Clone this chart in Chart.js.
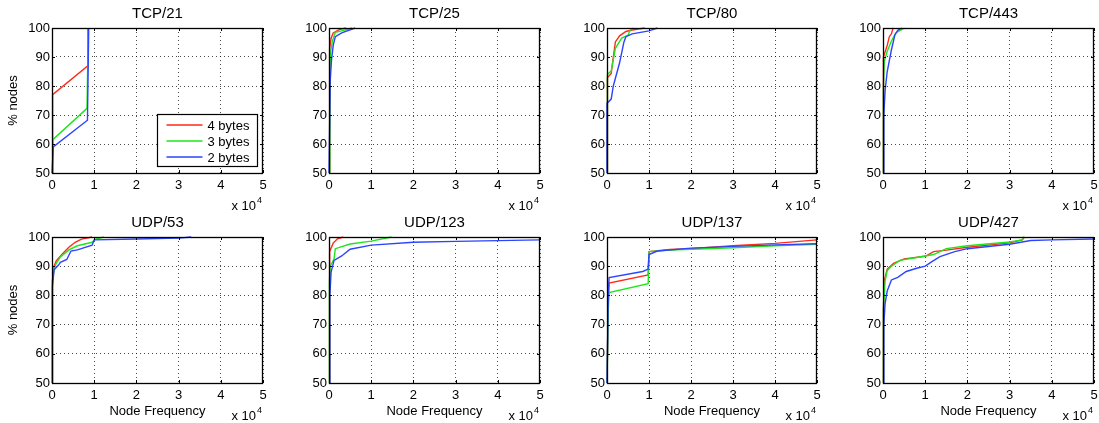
<!DOCTYPE html>
<html>
<head>
<meta charset="utf-8">
<script src="https://cdn.jsdelivr.net/npm/chart.js@4.4.1/dist/chart.umd.min.js"></script>
<style>
  html, body { margin: 0; padding: 0; background: #fff; overflow: hidden; }
  #wrap { position: relative; width: 1099px; height: 423px; }
  #wrap canvas { position: absolute; }
</style>
</head>
<body>
<div id="wrap"></div>
<script>
// axes
var xTicks = [0, 1, 2, 3, 4, 5];          // node frequency, x 10^4
var yTicks = [50, 60, 70, 80, 90, 100];   // % nodes
var titles = ['TCP/21', 'TCP/25', 'TCP/80', 'TCP/443', 'UDP/53', 'UDP/123', 'UDP/137', 'UDP/427'];
var seriesNames = ['4 bytes', '3 bytes', '2 bytes'];

// [node frequency (x 10^4), % nodes]
var tcp21_4 = [[0,50],[0.01,60],[0.02,77],[0.83,86.7],[0.85,100]];
var tcp21_3 = [[0,50],[0.02,61.5],[0.83,72.3],[0.86,100]];
var tcp21_2 = [[0,50],[0.03,59],[0.84,68.2],[0.87,100]];

var tcp25_4 = [[0,50],[0.01,86],[0.02,93],[0.05,96.5],[0.1,98.3],[0.25,99.5],[0.4,100]];
var tcp25_3 = [[0,50],[0.02,86],[0.04,92],[0.08,95.5],[0.15,98.5],[0.3,99],[0.55,100]];
var tcp25_2 = [[0,50],[0.03,82],[0.06,89],[0.1,94],[0.15,97],[0.3,98.3],[0.62,100]];

var tcp80_4 = [[0,50],[0,74],[0.02,82.8],[0.1,84.3],[0.15,90],[0.2,95.2],[0.3,97.3],[0.45,98.8],[0.6,99.3],[0.9,100]];
var tcp80_3 = [[0,50],[0,74],[0.02,84],[0.1,85.2],[0.2,93],[0.35,96.5],[0.5,97.5],[0.55,99.2],[0.62,100]];
var tcp80_2 = [[0,50],[0,74],[0.1,75.5],[0.15,80],[0.3,88],[0.4,95],[0.45,97],[0.6,98],[1.0,99],[1.2,100]];

var tcp443_4 = [[0,50],[0,87],[0.02,90],[0.1,94],[0.15,97],[0.2,98],[0.24,100]];
var tcp443_3 = [[0,50],[0.01,80],[0.03,88.5],[0.1,92],[0.2,95.5],[0.3,98.3],[0.45,99.5],[0.51,100]];
var tcp443_2 = [[0,50],[0.02,70],[0.05,78.5],[0.1,85],[0.2,92.5],[0.28,97.5],[0.35,99.2],[0.45,100]];

var udp53_4 = [[0,50],[0.01,85],[0.05,90],[0.1,91.8],[0.25,94.3],[0.4,96.5],[0.55,98.2],[0.7,99.3],[0.95,100]];
var udp53_3 = [[0,50],[0.01,85],[0.05,89],[0.1,91],[0.2,93.2],[0.4,95.6],[0.6,97],[0.95,98.2],[1.02,99.2],[1.23,100]];
var udp53_2 = [[0,50],[0.01,83],[0.05,88.8],[0.15,90.3],[0.2,91.3],[0.35,92.3],[0.45,95.2],[0.6,95.6],[0.95,97.2],[1.0,99],[2.0,99.3],[3.0,99.6],[3.3,100]];

var udp123_4 = [[0,50],[0.01,85],[0.02,95],[0.1,97.9],[0.2,99.4],[0.34,100]];
var udp123_3 = [[0,50],[0.01,85],[0.03,90],[0.12,92.5],[0.15,96],[0.5,97.6],[1.0,98.6],[1.48,100]];
var udp123_2 = [[0,50],[0.02,80],[0.05,88],[0.12,92],[0.3,93.5],[0.5,95.8],[1.0,97.2],[2.0,98.2],[3.0,98.5],[5.0,99]];

var udp137_4 = [[0,50],[0.03,78],[0.05,84.2],[0.98,87],[1.0,95],[1.5,95.7],[2.0,96],[3.0,97],[4.0,97.8],[5.0,99]];
var udp137_3 = [[0,50],[0.03,75],[0.05,81],[0.98,84],[1.0,95],[1.5,95.5],[2.0,95.8],[3.0,96.3],[4.0,97],[5.0,97.5]];
var udp137_2 = [[0,50],[0.03,80],[0.05,86.1],[0.85,88.2],[0.98,89],[1.0,94],[1.2,95.2],[2.0,96.2],[3.0,96.8],[4.0,97.3],[5.0,97.7]];

var udp427_4 = [[0,50],[0.01,75],[0.03,85],[0.1,89],[0.25,91],[0.5,92.5],[1.0,93.4],[1.2,95],[1.5,95.5],[2.0,96.5],[3.0,98],[3.3,99],[3.35,100]];
var udp427_3 = [[0,50],[0.01,75],[0.05,85],[0.1,88.5],[0.2,90],[0.4,92],[0.8,93],[1.2,94],[1.5,96],[2.0,97],[3.0,98.3],[3.3,99],[3.35,100]];
var udp427_2 = [[0,50],[0.02,70],[0.05,77.3],[0.1,81.5],[0.2,85.3],[0.35,86.2],[0.55,88.2],[0.8,89.3],[1.0,90],[1.15,91.5],[1.35,93.3],[1.7,95],[2.0,96],[3.0,97.5],[3.5,98.8],[4.0,99],[5.0,99.3]];

var panels = [
  [tcp21_4, tcp21_3, tcp21_2], [tcp25_4, tcp25_3, tcp25_2],
  [tcp80_4, tcp80_3, tcp80_2], [tcp443_4, tcp443_3, tcp443_2],
  [udp53_4, udp53_3, udp53_2], [udp123_4, udp123_3, udp123_2],
  [udp137_4, udp137_3, udp137_2], [udp427_4, udp427_3, udp427_2]
];

// layout (pixels)
var colors = ['#ff2a1a', '#1ee61e', '#2b44ff'];
var plotLeft = [52, 329, 607, 883];
var plotRight = [263, 540, 817, 1094];
var plotTop = [28, 237];
var plotBottom = [173, 383];
var FONT = '"Liberation Sans", Arial, Helvetica, sans-serif';

var framePlugin = {
  id: 'frame',
  afterDraw: function(chart, args, opts) {
    var ctx = chart.ctx, a = chart.chartArea;
    var i = opts.index, col = i % 4, row = Math.floor(i / 4);
    ctx.save();
    ctx.strokeStyle = '#000';
    ctx.lineWidth = 1.3;
    ctx.strokeRect(Math.round(a.left) + 0.5, Math.round(a.top) + 0.5,
      Math.round(a.right - a.left) - 1, Math.round(a.bottom - a.top));

    // inward tick marks
    ctx.lineWidth = 1;
    ctx.beginPath();
    xTicks.forEach(function(v) {
      var px = Math.round(chart.scales.x.getPixelForValue(v)) + 0.5;
      ctx.moveTo(px, a.bottom); ctx.lineTo(px, a.bottom - 3);
      ctx.moveTo(px, a.top); ctx.lineTo(px, a.top + 3);
    });
    yTicks.forEach(function(v) {
      var py = Math.round(chart.scales.y.getPixelForValue(v)) + 0.5;
      ctx.moveTo(a.left, py); ctx.lineTo(a.left + 3, py);
      ctx.moveTo(a.right, py); ctx.lineTo(a.right - 3, py);
    });
    ctx.stroke();

    var cx = (a.left + a.right) / 2;
    ctx.fillStyle = '#000';
    ctx.textAlign = 'center';
    ctx.textBaseline = 'alphabetic';
    ctx.font = '15px ' + FONT;
    ctx.fillText(titles[i], cx, a.top - 10);

    // x 10^4
    ctx.textAlign = 'right';
    ctx.font = '9px ' + FONT;
    ctx.fillText('4', a.right - 1, a.bottom + 30);
    var w4 = ctx.measureText('4').width;
    ctx.font = '13px ' + FONT;
    ctx.fillText('x 10', a.right - 2 - w4, a.bottom + 37);

    if (row === 1) {
      ctx.textAlign = 'center';
      ctx.fillText('Node Frequency', cx, a.bottom + 32);
    }
    if (col === 0) {
      ctx.save();
      ctx.translate(17, (a.top + a.bottom) / 2);
      ctx.rotate(-Math.PI / 2);
      ctx.textAlign = 'center';
      ctx.fillText('% nodes', 0, 0);
      ctx.restore();
    }

    if (opts.legend) {
      var bx = Math.round(a.right) - 105.5, by = Math.round(a.bottom) - 58.5;
      ctx.fillStyle = '#fff';
      ctx.fillRect(bx, by, 100, 52);
      ctx.strokeStyle = '#000';
      ctx.lineWidth = 1.2;
      ctx.strokeRect(bx, by, 100, 52);
      ctx.textAlign = 'left';
      ctx.textBaseline = 'middle';
      seriesNames.forEach(function(name, k) {
        var ly = by + 10.5 + k * 16;
        ctx.strokeStyle = colors[k];
        ctx.lineWidth = 1.4;
        ctx.beginPath();
        ctx.moveTo(bx + 9, ly); ctx.lineTo(bx + 45, ly);
        ctx.stroke();
        ctx.fillStyle = '#000';
        ctx.fillText(name, bx + 50, ly + 1);
      });
    }
    ctx.restore();
  }
};

var wrap = document.getElementById('wrap');

function makeChart(i) {
  var col = i % 4, row = Math.floor(i / 4);
  var left = plotLeft[col] - 52;
  var top = plotTop[row] - 28;
  var w = plotRight[col] - left + 12;
  var h = plotBottom[row] - top + 42;
  var cv = document.createElement('canvas');
  cv.width = w; cv.height = h;
  cv.style.left = left + 'px'; cv.style.top = top + 'px';
  cv.style.width = w + 'px'; cv.style.height = h + 'px';
  wrap.appendChild(cv);

  var datasets = panels[i].map(function(pts, k) {
    return {
      label: seriesNames[k],
      data: pts.map(function(p) { return { x: p[0], y: p[1] }; }),
      borderColor: colors[k],
      borderWidth: 1.4,
      pointRadius: 0,
      tension: 0,
      fill: false,
      order: 2 - k,
      clip: 2
    };
  });

  var tickFont = { family: FONT, size: 13 };
  new Chart(cv, {
    type: 'line',
    data: { datasets: datasets },
    options: {
      responsive: false,
      animation: false,
      devicePixelRatio: 1,
      layout: { padding: { left: 0, top: 28, right: 12, bottom: 0 } },
      plugins: {
        legend: { display: false },
        tooltip: { enabled: false },
        frame: { index: i, legend: i === 0 }
      },
      scales: {
        x: {
          type: 'linear', min: 0, max: 5,
          afterBuildTicks: function(s) { s.ticks = xTicks.map(function(v) { return { value: v }; }); },
          afterFit: function(s) { s.height = 42; },
          ticks: { color: '#000', font: tickFont, padding: 5, maxRotation: 0 },
          grid: { color: 'rgba(0,0,0,0.7)', lineWidth: 1, drawTicks: false },
          border: { display: false, dash: [1, 3] }
        },
        y: {
          type: 'linear', min: 50, max: 100,
          afterBuildTicks: function(s) { s.ticks = yTicks.map(function(v) { return { value: v }; }); },
          afterFit: function(s) { s.width = 52; },
          ticks: { color: '#000', font: tickFont, padding: 2 },
          grid: { color: 'rgba(0,0,0,0.7)', lineWidth: 1, drawTicks: false },
          border: { display: false, dash: [1, 3] }
        }
      }
    },
    plugins: [framePlugin]
  });
}

for (var i = 0; i < panels.length; i++) makeChart(i);
</script>
</body>
</html>
